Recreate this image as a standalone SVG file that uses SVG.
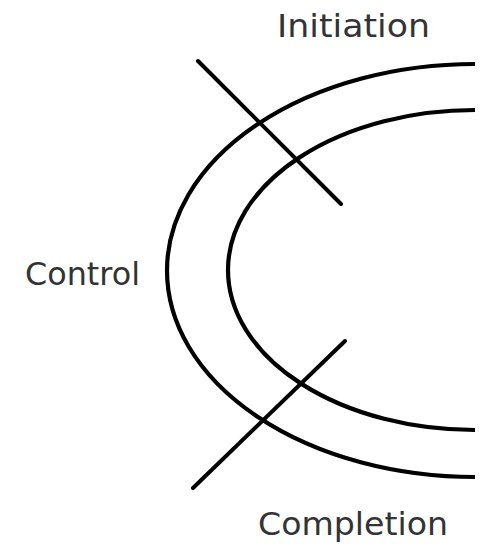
<svg xmlns="http://www.w3.org/2000/svg" width="485" height="544" viewBox="0 0 485 544">
<style>
.arc{fill:none;stroke:#000;stroke-width:4.2}
.ln{stroke:#000;stroke-width:4;stroke-linecap:round}
.lbl{font-family:"DejaVu Sans",Verdana,sans-serif;font-size:32px;fill:#333}
</style>
<rect width="485" height="544" fill="#fff"/>
<g id="outer-arc"><path class="arc" d="M475,64 A308,206.5 0 0 0 475,477"/></g>
<g id="inner-arc"><path class="arc" d="M475,110 A247,160 0 0 0 475,430"/></g>
<g id="connectors">
<line class="ln" x1="198" y1="61" x2="341" y2="204"/>
<line class="ln" x1="345" y1="341" x2="193" y2="488"/>
</g>
<g id="initiation"><text class="lbl" x="277" y="37" textLength="153" lengthAdjust="spacingAndGlyphs">Initiation</text></g>
<g id="control"><text class="lbl" x="25" y="285" textLength="115" lengthAdjust="spacingAndGlyphs">Control</text></g>
<g id="completion"><text class="lbl" x="258" y="535" textLength="190" lengthAdjust="spacingAndGlyphs">Completion</text></g>
</svg>
